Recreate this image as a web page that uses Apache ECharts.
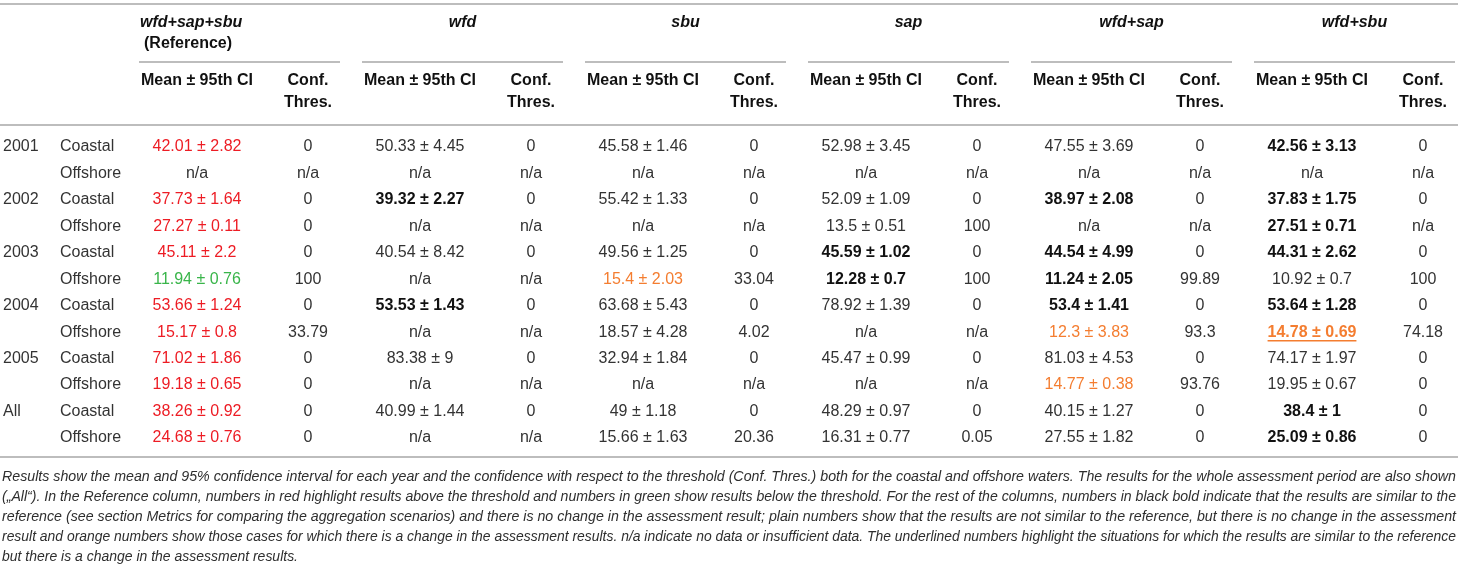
<!DOCTYPE html>
<html>

<head>
    <meta charset="utf-8">
    <title>Assessment results table</title>
    <script src="https://cdn.jsdelivr.net/npm/echarts@6/dist/echarts.min.js"></script>
    <style>
        html, body { margin: 0; padding: 0; background: #fff; }
    </style>
</head>

<body>
    <div id="main" style="width: 1460px;height:568px;"></div>
    <script type="text/javascript">
        // table content, one array per column
        var years = ['2001', '2002', '2003', '2004', '2005', 'All'];
        var waters = ['Coastal', 'Offshore'];
        var scenarios = ['wfd+sap+sbu', 'wfd', 'sbu', 'sap', 'wfd+sap', 'wfd+sbu'];

        var meanRef = ['42.01 ± 2.82', 'n/a', '37.73 ± 1.64', '27.27 ± 0.11', '45.11 ± 2.2', '11.94 ± 0.76',
            '53.66 ± 1.24', '15.17 ± 0.8', '71.02 ± 1.86', '19.18 ± 0.65', '38.26 ± 0.92', '24.68 ± 0.76'];
        var confRef = ['0', 'n/a', '0', '0', '0', '100', '0', '33.79', '0', '0', '0', '0'];
        var styleRef = ['r', 'p', 'r', 'r', 'r', 'g', 'r', 'r', 'r', 'r', 'r', 'r'];

        var meanWfd = ['50.33 ± 4.45', 'n/a', '39.32 ± 2.27', 'n/a', '40.54 ± 8.42', 'n/a',
            '53.53 ± 1.43', 'n/a', '83.38 ± 9', 'n/a', '40.99 ± 1.44', 'n/a'];
        var confWfd = ['0', 'n/a', '0', 'n/a', '0', 'n/a', '0', 'n/a', '0', 'n/a', '0', 'n/a'];
        var styleWfd = ['p', 'p', 'b', 'p', 'p', 'p', 'b', 'p', 'p', 'p', 'p', 'p'];

        var meanSbu = ['45.58 ± 1.46', 'n/a', '55.42 ± 1.33', 'n/a', '49.56 ± 1.25', '15.4 ± 2.03',
            '63.68 ± 5.43', '18.57 ± 4.28', '32.94 ± 1.84', 'n/a', '49 ± 1.18', '15.66 ± 1.63'];
        var confSbu = ['0', 'n/a', '0', 'n/a', '0', '33.04', '0', '4.02', '0', 'n/a', '0', '20.36'];
        var styleSbu = ['p', 'p', 'p', 'p', 'p', 'o', 'p', 'p', 'p', 'p', 'p', 'p'];

        var meanSap = ['52.98 ± 3.45', 'n/a', '52.09 ± 1.09', '13.5 ± 0.51', '45.59 ± 1.02', '12.28 ± 0.7',
            '78.92 ± 1.39', 'n/a', '45.47 ± 0.99', 'n/a', '48.29 ± 0.97', '16.31 ± 0.77'];
        var confSap = ['0', 'n/a', '0', '100', '0', '100', '0', 'n/a', '0', 'n/a', '0', '0.05'];
        var styleSap = ['p', 'p', 'p', 'p', 'b', 'b', 'p', 'p', 'p', 'p', 'p', 'p'];

        var meanWfdSap = ['47.55 ± 3.69', 'n/a', '38.97 ± 2.08', 'n/a', '44.54 ± 4.99', '11.24 ± 2.05',
            '53.4 ± 1.41', '12.3 ± 3.83', '81.03 ± 4.53', '14.77 ± 0.38', '40.15 ± 1.27', '27.55 ± 1.82'];
        var confWfdSap = ['0', 'n/a', '0', 'n/a', '0', '99.89', '0', '93.3', '0', '93.76', '0', '0'];
        var styleWfdSap = ['p', 'p', 'b', 'p', 'b', 'b', 'b', 'o', 'p', 'o', 'p', 'p'];

        var meanWfdSbu = ['42.56 ± 3.13', 'n/a', '37.83 ± 1.75', '27.51 ± 0.71', '44.31 ± 2.62', '10.92 ± 0.7',
            '53.64 ± 1.28', '14.78 ± 0.69', '74.17 ± 1.97', '19.95 ± 0.67', '38.4 ± 1', '25.09 ± 0.86'];
        var confWfdSbu = ['0', 'n/a', '0', 'n/a', '0', '100', '0', '74.18', '0', '0', '0', '0'];
        var styleWfdSbu = ['b', 'p', 'b', 'b', 'b', 'p', 'b', 'u', 'p', 'p', 'b', 'b'];

        var footnote = [
            'Results show the mean and 95% confidence interval for each year and the confidence with respect to the threshold (Conf. Thres.) both for the coastal and offshore waters. The results for the whole assessment period are also shown',
            '(„All“). In the Reference column, numbers in red highlight results above the threshold and numbers in green show results below the threshold. For the rest of the columns, numbers in black bold indicate that the results are similar to the',
            'reference (see section Metrics for comparing the aggregation scenarios) and there is no change in the assessment result; plain numbers show that the results are not similar to the reference, but there is no change in the assessment',
            'result and orange numbers show those cases for which there is a change in the assessment results. n/a indicate no data or insufficient data. The underlined numbers highlight the situations for which the results are similar to the reference',
            'but there is a change in the assessment results.'
        ];

        var means = [meanRef, meanWfd, meanSbu, meanSap, meanWfdSap, meanWfdSbu];
        var confs = [confRef, confWfd, confSbu, confSap, confWfdSap, confWfdSbu];
        var kinds = [styleRef, styleWfd, styleSbu, styleSap, styleWfdSap, styleWfdSbu];

        // layout (x in axis units == pixels)
        var FONT = '"Liberation Sans", Arial, sans-serif';
        var xYear = 3, xWater = 60, xMean = 197, xConf = 308, step = 223;
        var ruleColor = '#bdbdbd';
        var looks = {
            p: { color: '#333333', font: '16px ' + FONT },
            r: { color: '#ed1c24', font: '16px ' + FONT },
            g: { color: '#39b54a', font: '16px ' + FONT },
            o: { color: '#f47d30', font: '16px ' + FONT },
            b: { color: '#111111', font: 'bold 16px ' + FONT },
            u: { color: '#f47d30', font: 'bold 16px ' + FONT }
        };

        var ctx = document.createElement('canvas').getContext('2d');
        function measure(text, font) {
            ctx.font = font;
            return ctx.measureText(text).width;
        }

        var rowKeys = [];
        years.forEach(function (y) {
            waters.forEach(function (w) { rowKeys.push(y + ' ' + w); });
        });

        var cells = [];
        years.forEach(function (y, i) {
            cells.push({ x: xYear, row: i * 2, text: y, kind: 'p', align: 'left' });
        });
        rowKeys.forEach(function (k, r) {
            cells.push({ x: xWater, row: r, text: waters[r % 2], kind: 'p', align: 'left' });
        });
        scenarios.forEach(function (s, g) {
            means[g].forEach(function (t, r) {
                cells.push({ x: xMean + g * step, row: r, text: t, kind: kinds[g][r], align: 'center' });
                cells.push({ x: xConf + g * step, row: r, text: confs[g][r], kind: 'p', align: 'center' });
            });
        });

        function renderCell(params, api) {
            var c = cells[params.dataIndex];
            var p = api.coord([api.value(0), api.value(1)]);
            var look = looks[c.kind];
            var children = [{
                type: 'text', x: p[0], y: p[1],
                style: { text: c.text, font: look.font, fill: look.color, textAlign: c.align, textVerticalAlign: 'middle' }
            }];
            if (c.kind === 'u') {
                var w = measure(c.text, look.font);
                children.push({
                    type: 'line',
                    shape: { x1: p[0] - w / 2, y1: p[1] + 8.5, x2: p[0] + w / 2, y2: p[1] + 8.5 },
                    style: { stroke: look.color, lineWidth: 1.5 }
                });
            }
            return { type: 'group', children: children };
        }

        var myChart = echarts.init(document.getElementById('main'));
        myChart.setOption({
            animation: false,
            grid: { left: 0, right: 0, top: 133.8, height: 317.4 },
            xAxis: { type: 'value', min: 0, max: 1460, show: false },
            yAxis: { type: 'category', data: rowKeys, inverse: true, show: false },
            series: [{
                type: 'custom',
                renderItem: renderCell,
                data: cells.map(function (c) { return [c.x, c.row]; })
            }]
        });

        // header, rules and footnote placed from the same x scale
        function px(x) {
            return myChart.convertToPixel({ gridIndex: 0 }, [x, 0])[0];
        }
        var graphics = [];
        function rule(x1, x2, y) {
            graphics.push({ type: 'line', shape: { x1: x1, y1: y, x2: x2, y2: y }, style: { stroke: ruleColor, lineWidth: 2 } });
        }
        function label(text, x, y, font, align) {
            graphics.push({
                type: 'text', x: x, y: y,
                style: { text: text, font: font, fill: '#111', textAlign: align || 'center', textVerticalAlign: 'middle' }
            });
        }
        rule(0, 1458, 4);
        rule(0, 1458, 125);
        rule(0, 1458, 457);
        scenarios.forEach(function (s, g) {
            var a = px(xMean + g * step - 58), b = px(xConf + g * step + 32);
            rule(a, b, 62);
            if (g === 0) {
                label(s, a + 1, 23, 'italic bold 16px ' + FONT, 'left');
                label('(Reference)', a + 5, 44, 'bold 16px ' + FONT, 'left');
            } else {
                label(s, (a + b) / 2, 23, 'italic bold 16px ' + FONT);
            }
            label('Mean ± 95th CI', px(xMean + g * step), 81, 'bold 16px ' + FONT);
            label('Conf.', px(xConf + g * step), 81, 'bold 16px ' + FONT);
            label('Thres.', px(xConf + g * step), 103, 'bold 16px ' + FONT);
        });

        var noteFont = 'italic 14px ' + FONT;
        footnote.forEach(function (line, i) {
            var target = i < footnote.length - 1 ? 1454 : 296;
            var natural = measure(line, noteFont);
            graphics.push({
                type: 'text', x: 2, y: 477 + i * 20, scaleX: target / natural,
                style: { text: line, font: noteFont, fill: '#2e2e2e', textAlign: 'left', textVerticalAlign: 'middle' }
            });
        });

        myChart.setOption({ graphic: graphics });
    </script>
</body>

</html>
